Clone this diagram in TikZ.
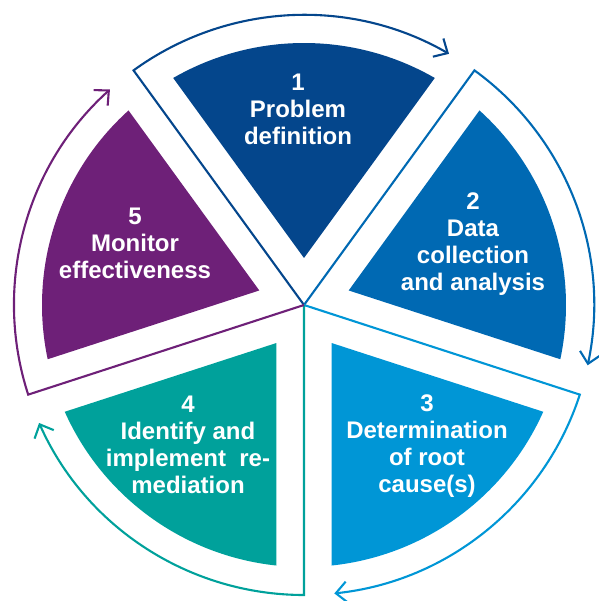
\documentclass[tikz,border=0pt]{standalone}
\usepackage{fontspec}
\setmainfont{Liberation Sans}
\usetikzlibrary{arrows.meta}
\definecolor{cA}{HTML}{04468C}
\definecolor{cB}{HTML}{0069B3}
\definecolor{cC}{HTML}{0096D6}
\definecolor{cD}{HTML}{00A19B}
\definecolor{cE}{HTML}{6E2078}
\begin{document}
\begin{tikzpicture}[x=1pt,y=1pt,
  outl/.style={line width=2.1pt, -{Straight Barb[length=11pt,width=21pt,line width=2.1pt]}},
  lbl/.style={text=white, font=\bfseries\fontsize{24}{27}\selectfont, align=center, inner sep=0pt}]
\useasboundingbox (-304,-296) rectangle (294,305);
\coordinate (O) at (0,0);
\foreach \a/\c in {126/cA,54/cB,-18/cC,-90/cD,-162/cE}{
  \pgfmathsetmacro\b{\a-36}
  \pgfmathsetmacro\e{\a-72}
  \fill[\c] (\b:47) -- (\a-6.05:262) arc[start angle=\a-6.05, end angle=\e+6.05, radius=262] -- cycle;
  \draw[outl,\c] (O) -- (\a:290) arc[start angle=\a, end angle=\e+6, radius=290];
}
\node[lbl] (t1) at (-6,196) {1\\Problem\\definition};
\node[lbl] (t2) at (169,60.5) {2\\Data\\collection\\and analysis};
\node[lbl] (t3) at (123,-141.5) {3\\Determination\\of root\\cause(s)};
\node[lbl] (t4) at (-116,-139.5) {4\\Identify and\\implement\ \ re-\\mediation};
\node[lbl] (t5) at (-169,62) {5\\Monitor\\effectiveness};
\end{tikzpicture}
\end{document}
